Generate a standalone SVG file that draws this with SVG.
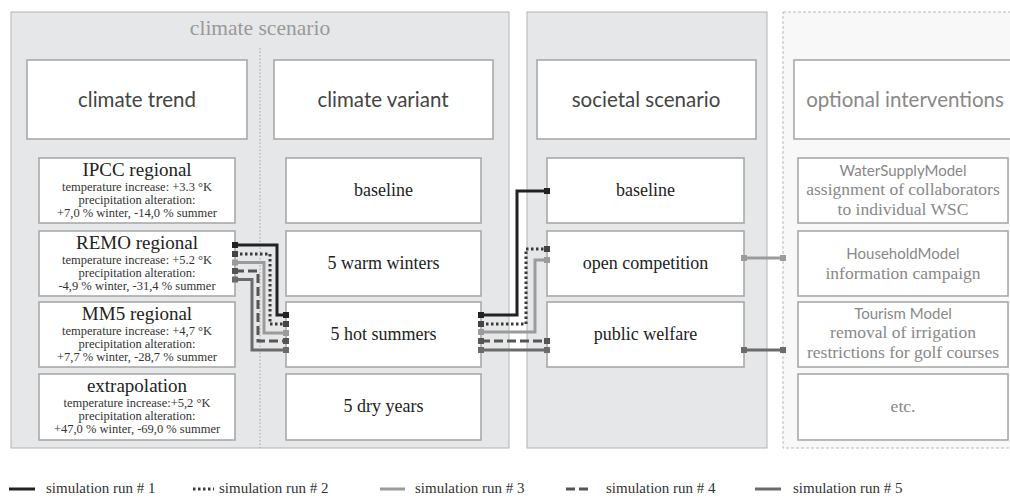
<svg xmlns="http://www.w3.org/2000/svg" width="1010" height="499" viewBox="0 0 1010 499">
  <style>
    .panel { fill: #e6e7e9; stroke: #b3b3b3; stroke-width: 1; }
    .panel-opt { fill: #f8f8f8; stroke: #b8b8b8; stroke-width: 1; stroke-dasharray: 3 2; }
    .box { fill: #ffffff; stroke: #a9a9a9; stroke-width: 1.6; }
    .head { font-family: Lato, "Liberation Sans", sans-serif; font-size: 20.5px; fill: #444; text-anchor: middle; }
    .head-opt { fill: #888; }
    .title { font-family: "Liberation Serif", serif; font-size: 21.5px; fill: #999; text-anchor: middle; }
    .name { font-family: "Liberation Serif", serif; font-size: 18px; fill: #222; text-anchor: middle; }
    .trend { font-size: 19px; }
    .small { font-family: "Liberation Serif", serif; font-size: 12.5px; fill: #333; text-anchor: middle; }
    .model { font-family: Lato, "Liberation Sans", sans-serif; font-size: 15px; fill: #888; text-anchor: middle; }
    .desc { font-family: "Liberation Serif", serif; font-size: 17.5px; fill: #888; text-anchor: middle; }
    .legend { font-family: "Liberation Serif", serif; font-size: 15px; fill: #333; }
    .run { fill: none; stroke-width: 3; }
    .r1 { stroke: #222; }
    .r2 { stroke: #3a3a3a; stroke-dasharray: 2.5 2.5; }
    .r3 { stroke: #9b9b9b; }
    .r4 { stroke: #555; stroke-dasharray: 9 4; }
    .r5 { stroke: #6b6b6b; }
    .s1 { fill: #222; }
    .s2 { fill: #444; }
    .s3 { fill: #9b9b9b; }
    .s4 { fill: #555; }
    .s5 { fill: #6b6b6b; }
  </style>

  <!-- climate scenario panel -->
  <g id="climate-scenario">
    <rect class="panel" x="11" y="12" width="498" height="436"/>
    <text class="title" x="260" y="35">climate scenario</text>
    <line x1="260" y1="48" x2="260" y2="448" stroke="#a5a5a5" stroke-width="1" stroke-dasharray="1.5 2"/>
  </g>

  <!-- societal scenario panel -->
  <g id="societal-panel">
    <rect class="panel" x="527" y="12" width="240" height="436"/>
  </g>

  <!-- optional interventions panel -->
  <g id="interventions-panel">
    <rect class="panel-opt" x="783" y="12" width="240" height="436"/>
  </g>

  <!-- column headers -->
  <g id="climate-trend">
    <rect class="box" x="27" y="60" width="220" height="79"/>
    <text class="head" x="137" y="107">climate trend</text>
  </g>
  <g id="climate-variant">
    <rect class="box" x="274" y="60" width="219" height="79"/>
    <text class="head" x="383" y="107">climate variant</text>
  </g>
  <g id="societal-scenario">
    <rect class="box" x="537" y="60" width="219" height="79"/>
    <text class="head" x="646" y="107">societal scenario</text>
  </g>
  <g id="optional-interventions">
    <rect class="box" x="794" y="60" width="220" height="79"/>
    <text class="head head-opt" x="905" y="107">optional interventions</text>
  </g>

  <!-- climate trends -->
  <g id="ipcc-regional">
    <rect class="box" x="39" y="158" width="196" height="65"/>
    <text class="name trend" x="137" y="175.5">IPCC regional</text>
    <text class="small" x="137" y="191">temperature increase: +3.3 °K</text>
    <text class="small" x="137" y="204">precipitation alteration:</text>
    <text class="small" x="137" y="217">+7,0 % winter, -14,0 % summer</text>
  </g>
  <g id="remo-regional">
    <rect class="box" x="39" y="231" width="196" height="65"/>
    <text class="name trend" x="137" y="248.5">REMO regional</text>
    <text class="small" x="137" y="264">temperature increase: +5.2 °K</text>
    <text class="small" x="137" y="277">precipitation alteration:</text>
    <text class="small" x="137" y="290">-4,9 % winter, -31,4 % summer</text>
  </g>
  <g id="mm5-regional">
    <rect class="box" x="39" y="302" width="196" height="65"/>
    <text class="name trend" x="137" y="319.5">MM5 regional</text>
    <text class="small" x="137" y="335">temperature increase: +4,7 °K</text>
    <text class="small" x="137" y="348">precipitation alteration:</text>
    <text class="small" x="137" y="361">+7,7 % winter, -28,7 % summer</text>
  </g>
  <g id="extrapolation">
    <rect class="box" x="39" y="374" width="196" height="66"/>
    <text class="name trend" x="137" y="391.5">extrapolation</text>
    <text class="small" x="137" y="407">temperature increase:+5,2 °K</text>
    <text class="small" x="137" y="420">precipitation alteration:</text>
    <text class="small" x="137" y="433">+47,0 % winter, -69,0 % summer</text>
  </g>

  <!-- climate variants -->
  <g id="variant-baseline">
    <rect class="box" x="286" y="158" width="195" height="65"/>
    <text class="name" x="383.5" y="196">baseline</text>
  </g>
  <g id="warm-winters">
    <rect class="box" x="286" y="231" width="195" height="65"/>
    <text class="name" x="383.5" y="269">5 warm winters</text>
  </g>
  <g id="hot-summers">
    <rect class="box" x="286" y="302" width="195" height="65"/>
    <text class="name" x="383.5" y="340">5 hot summers</text>
  </g>
  <g id="dry-years">
    <rect class="box" x="286" y="374" width="195" height="66"/>
    <text class="name" x="383.5" y="412">5 dry years</text>
  </g>

  <!-- societal scenarios -->
  <g id="societal-baseline">
    <rect class="box" x="547" y="158" width="197" height="65"/>
    <text class="name" x="645.5" y="196">baseline</text>
  </g>
  <g id="open-competition">
    <rect class="box" x="547" y="231" width="197" height="65"/>
    <text class="name" x="645.5" y="269">open competition</text>
  </g>
  <g id="public-welfare">
    <rect class="box" x="547" y="302" width="197" height="65"/>
    <text class="name" x="645.5" y="340">public welfare</text>
  </g>

  <!-- optional interventions -->
  <g id="water-supply">
    <rect class="box" x="798" y="158" width="210" height="65"/>
    <text class="model" x="903" y="176">WaterSupplyModel</text>
    <text class="desc" x="903" y="195">assignment of collaborators</text>
    <text class="desc" x="903" y="215">to individual WSC</text>
  </g>
  <g id="household">
    <rect class="box" x="798" y="231" width="210" height="65"/>
    <text class="model" x="903" y="259">HouseholdModel</text>
    <text class="desc" x="903" y="279">information campaign</text>
  </g>
  <g id="tourism">
    <rect class="box" x="798" y="302" width="210" height="65"/>
    <text class="model" x="903" y="319">Tourism Model</text>
    <text class="desc" x="903" y="338">removal of irrigation</text>
    <text class="desc" x="903" y="358">restrictions for golf courses</text>
  </g>
  <g id="etc">
    <rect class="box" x="798" y="374" width="210" height="66"/>
    <text class="desc" x="903" y="412">etc.</text>
  </g>

  <!-- simulation run connectors -->
  <g id="connectors">
    <!-- REMO regional to 5 hot summers -->
    <polyline class="run r5" points="235,279.5 252,279.5 252,350 286,350"/>
    <polyline class="run r4" points="235,271 258,271 258,341 286,341"/>
    <polyline class="run r3" points="235,262.5 264,262.5 264,333 286,333"/>
    <polyline class="run r2" points="235,254 270,254 270,324 286,324"/>
    <polyline class="run r1" points="235,245 277,245 277,315 286,315"/>

    <!-- 5 hot summers to societal scenarios -->
    <polyline class="run r5" points="481,350 547,350"/>
    <polyline class="run r4" points="481,341 547,341"/>
    <polyline class="run r3" points="481,332 535,332 535,260 547,260"/>
    <polyline class="run r2" points="481,324 526,324 526,249 547,249"/>
    <polyline class="run r1" points="481,315 517,315 517,191 547,191"/>

    <!-- societal scenarios to interventions -->
    <polyline class="run r3" points="744,258 783,258"/>
    <polyline class="run r5" points="744,350 783,350"/>

    <!-- end squares -->
    <rect class="s1" x="232" y="242" width="6" height="6"/>
    <rect class="s2" x="232" y="251" width="6" height="6"/>
    <rect class="s3" x="232" y="259.5" width="6" height="6"/>
    <rect class="s4" x="232" y="268" width="6" height="6"/>
    <rect class="s5" x="232" y="276.5" width="6" height="6"/>

    <rect class="s1" x="283" y="312" width="6" height="6"/>
    <rect class="s2" x="283" y="321" width="6" height="6"/>
    <rect class="s3" x="283" y="330" width="6" height="6"/>
    <rect class="s4" x="283" y="338" width="6" height="6"/>
    <rect class="s5" x="283" y="347" width="6" height="6"/>

    <rect class="s1" x="478" y="312" width="6" height="6"/>
    <rect class="s2" x="478" y="321" width="6" height="6"/>
    <rect class="s3" x="478" y="329" width="6" height="6"/>
    <rect class="s4" x="478" y="338" width="6" height="6"/>
    <rect class="s5" x="478" y="347" width="6" height="6"/>

    <rect class="s1" x="544" y="188" width="6" height="6"/>
    <rect class="s2" x="544" y="246" width="6" height="6"/>
    <rect class="s3" x="544" y="257" width="6" height="6"/>
    <rect class="s4" x="544" y="338" width="6" height="6"/>
    <rect class="s5" x="544" y="347" width="6" height="6"/>

    <rect class="s3" x="741" y="255" width="6" height="6"/>
    <rect class="s3" x="780" y="255" width="6" height="6"/>
    <rect class="s5" x="741" y="347" width="6" height="6"/>
    <rect class="s5" x="780" y="347" width="6" height="6"/>
  </g>

  <!-- legend -->
  <g id="legend">
    <line class="run r1" x1="9" y1="489" x2="35" y2="489"/>
    <text class="legend" x="46" y="493">simulation run # 1</text>
    <line class="run r2" x1="193" y1="489" x2="214" y2="489"/>
    <text class="legend" x="219" y="493">simulation run # 2</text>
    <line class="run r3" x1="380" y1="489" x2="405" y2="489"/>
    <text class="legend" x="415" y="493">simulation run # 3</text>
    <line class="run r4" x1="566" y1="489" x2="592" y2="489"/>
    <text class="legend" x="606" y="493">simulation run # 4</text>
    <line class="run r5" x1="755" y1="489" x2="781" y2="489"/>
    <text class="legend" x="793" y="493">simulation run # 5</text>
  </g>
</svg>
